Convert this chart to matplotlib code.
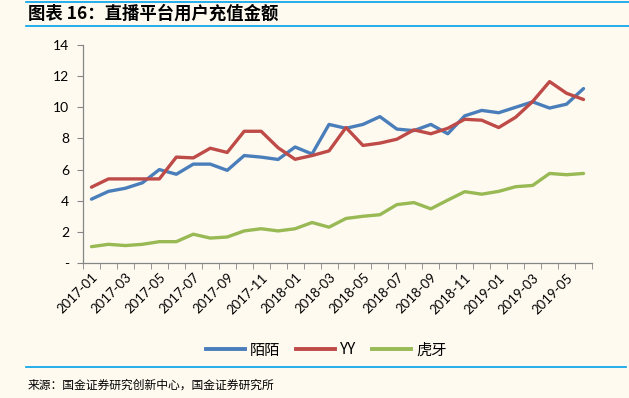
import matplotlib
matplotlib.use("Agg")
import matplotlib.pyplot as plt
from matplotlib.lines import Line2D

plt.rcParams['font.family'] = ['Lato', 'Noto Sans CJK SC', 'DejaVu Sans']

# 月份
months = ['2017-01', '2017-02', '2017-03', '2017-04', '2017-05', '2017-06',
          '2017-07', '2017-08', '2017-09', '2017-10', '2017-11', '2017-12',
          '2018-01', '2018-02', '2018-03', '2018-04', '2018-05', '2018-06',
          '2018-07', '2018-08', '2018-09', '2018-10', '2018-11', '2018-12',
          '2019-01', '2019-02', '2019-03', '2019-04', '2019-05', '2019-06']

# 各平台用户充值金额
momo = [4.1, 4.6, 4.8, 5.15, 6.0, 5.7, 6.35, 6.35, 5.95, 6.9, 6.8, 6.65,
        7.45, 7.0, 8.9, 8.65, 8.9, 9.4, 8.6, 8.5, 8.9, 8.3, 9.45, 9.8,
        9.65, 10.0, 10.35, 9.95, 10.2, 11.2]
yy = [4.87, 5.4, 5.4, 5.4, 5.4, 6.8, 6.75, 7.37, 7.1, 8.46, 8.46, 7.4,
      6.66, 6.9, 7.2, 8.7, 7.55, 7.7, 7.95, 8.55, 8.3, 8.65, 9.23, 9.17,
      8.7, 9.36, 10.37, 11.65, 10.9, 10.5]
huya = [1.05, 1.2, 1.12, 1.2, 1.37, 1.37, 1.85, 1.6, 1.67, 2.06, 2.2, 2.06,
        2.2, 2.6, 2.3, 2.86, 3.0, 3.1, 3.75, 3.88, 3.48, 4.04, 4.58, 4.42,
        4.6, 4.9, 4.98, 5.75, 5.67, 5.75]

series = [('陌陌', momo, '#4A7EBB'), ('YY', yy, '#BE4B48'), ('虎牙', huya, '#98B954')]

bg = '#FEFAF0'
fig = plt.figure(figsize=(6.29, 3.98), dpi=100, facecolor=bg)
ax = fig.add_axes([83 / 629, 1 - 263 / 398, 509 / 629, 218 / 398])
ax.set_facecolor(bg)

x = list(range(len(months)))
for name, vals, color in series:
    ax.plot(x, vals, color=color, lw=2.4, label=name, solid_capstyle='round',
            solid_joinstyle='round')

ax.set_xlim(-0.5, len(months) - 0.5)
ax.set_ylim(0, 14)
ax.set_yticks(range(0, 15, 2))
ax.set_yticklabels(['-'] + [str(v) for v in range(2, 15, 2)], fontsize=10)

ax.set_xticks(x[::2])
ax.set_xticklabels(months[::2], rotation=45, ha='right', rotation_mode='anchor',
                   fontsize=9.5)
ax.set_xticks([i - 0.5 for i in range(len(months) + 1)], minor=True)
ax.tick_params(axis='x', which='major', length=0, pad=6)
ax.tick_params(axis='x', which='minor', length=4, color='#868686')
ax.tick_params(axis='y', length=4, color='#868686', pad=6)

for s in ['top', 'right']:
    ax.spines[s].set_visible(False)
for s in ['left', 'bottom']:
    ax.spines[s].set_color('#868686')
    ax.spines[s].set_linewidth(0.9)

handles = [Line2D([], [], color=c, lw=2.8) for _, _, c in series]
fig.legend(handles, [n for n, _, _ in series], loc='center',
           bbox_to_anchor=(326 / 629, 1 - 350 / 398), ncol=3, frameon=False,
           handlelength=2.6, handletextpad=0.3, columnspacing=1.0,
           prop={'family': ['Noto Sans CJK SC'], 'size': 11})

# 标题和来源
line_color = '#00A0E9'
fig.add_artist(Line2D([26 / 629, 1], [1 - 2 / 398, 1 - 2 / 398], color=line_color, lw=1.2))
fig.add_artist(Line2D([26 / 629, 1], [1 - 26 / 398, 1 - 26 / 398], color=line_color, lw=1.2))
fig.text(28 / 629, 1 - 14 / 398, '图表 16：直播平台用户充值金额', fontsize=12.5,
         fontweight='bold', style='italic', va='center', ha='left',
         family=['Noto Sans CJK SC', 'DejaVu Sans'])
fig.add_artist(Line2D([26 / 629, 626 / 629], [1 - 367 / 398, 1 - 367 / 398], color=line_color, lw=1.2))
fig.text(28 / 629, 1 - 385 / 398, '来源：国金证券研究创新中心，国金证券研究所', fontsize=8.5,
         va='center', ha='left', family=['Noto Sans CJK SC', 'DejaVu Sans'])

fig.savefig('out.png', dpi=100, facecolor=bg)
